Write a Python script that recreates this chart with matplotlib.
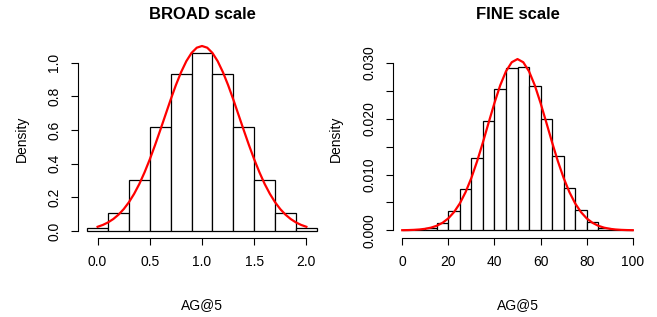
import numpy as np
import matplotlib
matplotlib.use("Agg")
import matplotlib.pyplot as plt

plt.rcParams['font.family'] = ['Liberation Sans', 'DejaVu Sans']

# BROAD scale: bins of width 0.2 centred on 0.0 .. 2.0
broad_edges = np.linspace(-0.1, 2.1, 12)
broad_density = [0.02, 0.105, 0.305, 0.616, 0.931, 1.057, 0.931, 0.616, 0.305, 0.105, 0.02]
broad_curve_x = np.linspace(0.0, 2.0, 41)
broad_curve_half = [0.025, 0.036, 0.051, 0.071, 0.097, 0.130, 0.171, 0.221, 0.280, 0.349,
                    0.426, 0.510, 0.599, 0.690, 0.781, 0.867, 0.944, 1.009, 1.058, 1.089, 1.099]
broad_curve_y = broad_curve_half + broad_curve_half[-2::-1]

# FINE scale: bins of width 5 from 0 to 100
fine_edges = np.linspace(0, 100, 21)
fine_density = [0.0, 0.0001, 0.0004, 0.0013, 0.0035, 0.0074, 0.0130, 0.0196, 0.0254, 0.0291,
                0.0292, 0.0258, 0.0200, 0.0133, 0.0076, 0.0037, 0.0015, 0.0005, 0.0001, 0.0]
fine_curve_x = np.linspace(0, 100, 41)
fine_curve_half = [0.00002, 0.00004, 0.00008, 0.00015, 0.00027, 0.00048, 0.00082, 0.00135,
                   0.00214, 0.00328, 0.00483, 0.00686, 0.00940, 0.0124, 0.01577, 0.01933,
                   0.02282, 0.02599, 0.0285, 0.03013, 0.0307]
fine_curve_y = fine_curve_half + fine_curve_half[-2::-1]

W, H = 657, 317
fig = plt.figure(figsize=(W / 100, H / 100), dpi=100)


def px_axes(x0, x1, y0, y1):
    return fig.add_axes([x0 / W, 1 - y1 / H, (x1 - x0) / W, (y1 - y0) / H])


def style_axes(ax, xticks, yticks, ylabels, title):
    for s in ['top', 'right']:
        ax.spines[s].set_visible(False)
    ax.spines['left'].set_bounds(yticks[0], yticks[-1])
    ax.spines['bottom'].set_bounds(xticks[0], xticks[-1])
    for s in ['left', 'bottom']:
        ax.spines[s].set_linewidth(0.8)
    ax.set_xticks(xticks)
    ax.set_yticks(yticks)
    ax.set_yticklabels(ylabels)
    ax.tick_params(length=5, width=0.8, labelsize=10, pad=7)
    ax.tick_params(axis='y', labelrotation=90)
    for lab in ax.get_yticklabels():
        lab.set_va('center')
    ax.set_title(title, fontsize=12, fontweight='bold', pad=14)
    ax.set_xlabel('AG@5', fontsize=10)
    ax.set_ylabel('Density', fontsize=10)
    ax.xaxis.set_label_coords(0.5, -0.30)
    ax.yaxis.set_label_coords(-0.20, 0.5)


# left panel
ax1 = px_axes(78, 326, 38.6, 238.4)
ax1.bar(broad_edges[:-1], broad_density, width=np.diff(broad_edges), align='edge',
        facecolor='white', edgecolor='black', linewidth=0.9)
ax1.plot(broad_curve_x, broad_curve_y, color='#ff0000', linewidth=1.6)
ax1.set_xlim(-0.188, 2.188)
ax1.set_ylim(-0.044, 1.143)
style_axes(ax1, [0.0, 0.5, 1.0, 1.5, 2.0], [0.0, 0.2, 0.4, 0.6, 0.8, 1.0],
           ['0.0', '0.2', '0.4', '0.6', '0.8', '1.0'], 'BROAD scale')
ax1.set_xticklabels(['0.0', '0.5', '1.0', '1.5', '2.0'])

# right panel
ax2 = px_axes(393, 642, 38.6, 238.4)
ax2.bar(fine_edges[:-1], fine_density, width=np.diff(fine_edges), align='edge',
        facecolor='white', edgecolor='black', linewidth=0.9)
ax2.plot(fine_curve_x, fine_curve_y, color='#ff0000', linewidth=1.6)
ax2.set_xlim(-4, 104)
ax2.set_ylim(-0.00145, 0.03437)
style_axes(ax2, [0, 20, 40, 60, 80, 100], [0.0, 0.005, 0.010, 0.015, 0.020, 0.025, 0.030],
           ['0.000', '', '0.010', '', '0.020', '', '0.030'], 'FINE scale')

fig.savefig('out.png', dpi=100, facecolor='white')
